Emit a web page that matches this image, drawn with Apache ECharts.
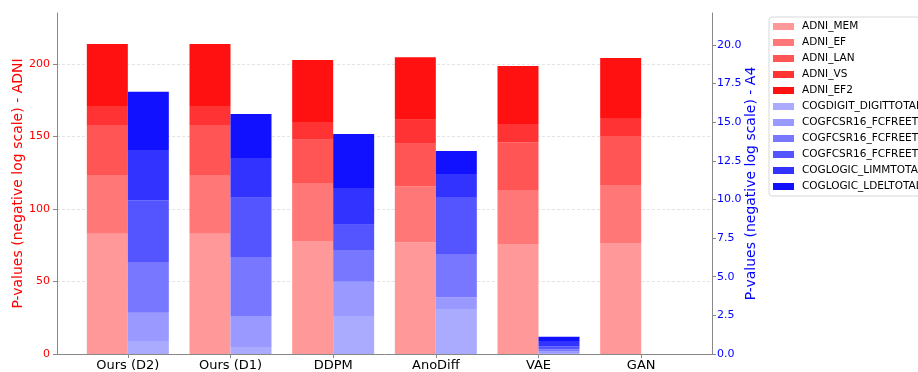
<!DOCTYPE html>
<html>
<head>
<meta charset="utf-8">
<script src="https://cdn.jsdelivr.net/npm/echarts@6/dist/echarts.min.js"></script>
<style>html,body{margin:0;padding:0;background:#fff;}#chart{width:918px;height:372px;}</style>
</head>
<body>
<div id="chart"></div>
<script>
const categories = ['Ours (D2)', 'Ours (D1)', 'DDPM', 'AnoDiff', 'VAE', 'GAN'];

const adniNames = ['ADNI_MEM', 'ADNI_EF', 'ADNI_LAN', 'ADNI_VS', 'ADNI_EF2'];
const ADNI_MEM = [83.0, 83.0, 77.9, 77.0, 75.9, 76.6];
const ADNI_EF  = [40.0, 40.0, 39.5, 38.7, 37.2, 40.0];
const ADNI_LAN = [34.9, 34.9, 30.4, 29.3, 32.9, 33.3];
const ADNI_VS  = [13.1, 13.1, 12.2, 16.6, 12.6, 12.9];
const ADNI_EF2 = [42.8, 42.8, 42.8, 43.0, 40.0, 41.3];

const a4Names = ['COGDIGIT_DIGITTOTAL', 'COGFCSR16_FCFREET1', 'COGFCSR16_FCFREET2', 'COGFCSR16_FCFREET3', 'COGLOGIC_LIMMTOTAL', 'COGLOGIC_LDELTOTAL'];
const COGDIGIT_DIGITTOTAL = [0.84, 0.45, 2.46, 2.87, 0.06, 0];
const COGFCSR16_FCFREET1  = [1.83, 2.01, 2.22, 0.80, 0.10, 0];
const COGFCSR16_FCFREET2  = [3.28, 3.82, 2.05, 2.80, 0.14, 0];
const COGFCSR16_FCFREET3  = [4.00, 3.84, 1.64, 3.69, 0.20, 0];
const COGLOGIC_LIMMTOTAL  = [3.25, 2.57, 2.37, 1.49, 0.34, 0];
const COGLOGIC_LDELTOTAL  = [3.78, 2.84, 3.50, 1.49, 0.28, 0];

const leftTicks = [0, 50, 100, 150, 200];
const rightTicks = [0, 2.5, 5, 7.5, 10, 12.5, 15, 17.5, 20];
const xTicks = [0, 1, 2, 3, 4, 5];

const redColors = ['#ff9999', '#ff7777', '#ff5555', '#ff3333', '#ff1111'];
const blueColors = ['#aaaaff', '#9999ff', '#7777ff', '#5555ff', '#3333ff', '#1111ff'];

const adniData = [ADNI_MEM, ADNI_EF, ADNI_LAN, ADNI_VS, ADNI_EF2];
const a4Data = [COGDIGIT_DIGITTOTAL, COGFCSR16_FCFREET1, COGFCSR16_FCFREET2, COGFCSR16_FCFREET3, COGLOGIC_LIMMTOTAL, COGLOGIC_LDELTOTAL];

const FONT = 'DejaVu Sans';
const LEFT_MAX = 235.2, RIGHT_MAX = 22.07;

const series = [];
adniNames.forEach((n, k) => {
  series.push({
    name: n, type: 'bar', stack: 'adni', xAxisIndex: 1, yAxisIndex: 2,
    barWidth: 41, barGap: '0%',
    itemStyle: { color: redColors[k] },
    data: adniData[k]
  });
});
a4Names.forEach((n, k) => {
  series.push({
    name: n, type: 'bar', stack: 'a4', xAxisIndex: 1, yAxisIndex: 3,
    barWidth: 41, barGap: '0%',
    itemStyle: { color: blueColors[k] },
    data: a4Data[k]
  });
});

const hiddenAxis = { show: false, axisLine: { show: false }, axisTick: { show: false }, axisLabel: { show: false }, splitLine: { show: false } };

const chart = echarts.init(document.getElementById('chart'), null, { renderer: 'canvas' });
chart.setOption({
  animation: false,
  textStyle: { fontFamily: FONT },
  grid: [
    { left: 57, right: 206, top: 13, bottom: 18 },
    { left: 76.5, right: 225.5, top: 13, bottom: 18 }
  ],
  legend: {
    orient: 'vertical', left: 769, top: 17,
    itemWidth: 21, itemHeight: 7, itemGap: 5,
    padding: [4, 4, 4, 4],
    borderColor: '#d8d8d8', borderWidth: 1, borderRadius: 3,
    backgroundColor: '#fff',
    icon: 'rect',
    textStyle: { fontFamily: FONT, fontSize: 10.5, color: '#000', padding: [0, 0, 0, 3] },
    data: adniNames.concat(a4Names)
  },
  xAxis: [
    {
      gridIndex: 0, type: 'value', min: -0.69, max: 5.69,
      axisLine: { onZero: false, lineStyle: { color: '#888' } },
      axisTick: { show: true, length: 4, lineStyle: { color: '#888' }, customValues: xTicks },
      axisLabel: {
        customValues: xTicks, margin: 5,
        fontFamily: FONT, fontSize: 13, color: '#000',
        formatter: v => categories[Math.round(v)]
      },
      splitLine: { show: false }
    },
    Object.assign({ gridIndex: 1, type: 'category', data: categories }, hiddenAxis)
  ],
  yAxis: [
    {
      gridIndex: 0, type: 'value', min: 0, max: LEFT_MAX, position: 'left',
      name: 'P-values (negative log scale) - ADNI', nameLocation: 'middle', nameRotate: 90, nameGap: 32,
      nameMoveOverlap: false,
      nameTextStyle: { color: '#ff0000', fontSize: 14, fontFamily: FONT },
      axisLine: { show: true, onZero: false, lineStyle: { color: '#888' } },
      axisTick: { show: true, length: 4, lineStyle: { color: '#888' }, customValues: leftTicks },
      axisLabel: { customValues: leftTicks, color: '#ff0000', fontSize: 11, fontFamily: FONT, margin: 7 },
      splitLine: { show: true, lineStyle: { color: '#dddddd', type: [3, 2], width: 0.8 } }
    },
    {
      gridIndex: 0, type: 'value', min: 0, max: RIGHT_MAX, position: 'right',
      name: 'P-values (negative log scale) - A4', nameLocation: 'middle', nameRotate: 90, nameGap: 32,
      nameMoveOverlap: false,
      nameTextStyle: { color: '#0000ff', fontSize: 14, fontFamily: FONT },
      axisLine: { show: true, onZero: false, lineStyle: { color: '#888' } },
      axisTick: { show: true, length: 4, lineStyle: { color: '#888' }, customValues: rightTicks },
      axisLabel: { customValues: rightTicks, color: '#0000ff', fontSize: 11, fontFamily: FONT, margin: 5, formatter: v => v.toFixed(1) },
      splitLine: { show: false }
    },
    Object.assign({ gridIndex: 1, type: 'value', min: 0, max: LEFT_MAX }, hiddenAxis),
    Object.assign({ gridIndex: 1, type: 'value', min: 0, max: RIGHT_MAX, position: 'right' }, hiddenAxis)
  ],
  series: series
});
</script>
</body>
</html>
